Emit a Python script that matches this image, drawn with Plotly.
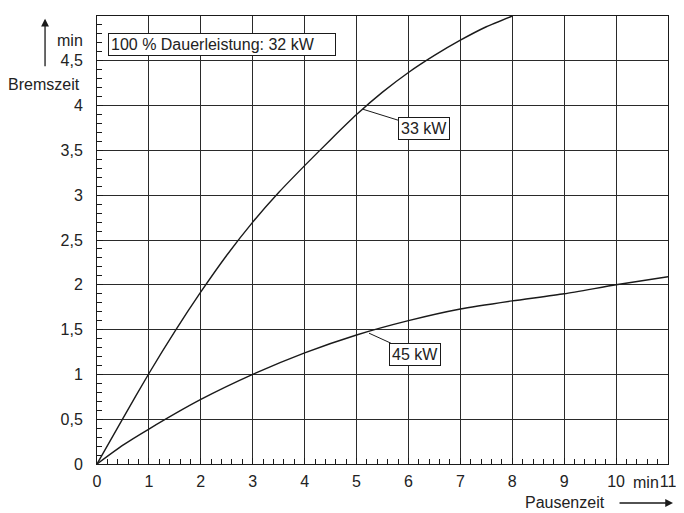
import plotly.graph_objects as go

pause_33 = [0, 0.5, 1, 1.5, 2, 2.5, 3, 3.5, 4, 4.5, 5, 5.5, 6, 6.5, 7, 7.5, 8]
brems_33 = [0, 0.51, 1.01, 1.48, 1.92, 2.33, 2.70, 3.03, 3.33, 3.62, 3.90, 4.15, 4.37, 4.56, 4.73, 4.88, 5.0]
pause_45 = [0, 0.5, 1, 2, 3, 4, 5, 6, 7, 8, 9, 10, 11]
brems_45 = [0, 0.21, 0.39, 0.72, 1.0, 1.24, 1.44, 1.6, 1.73, 1.82, 1.9, 2.0, 2.09]

x_ticks = list(range(0, 12))
x_ticktext = [str(v) for v in x_ticks]
y_ticks = [0, 0.5, 1, 1.5, 2, 2.5, 3, 3.5, 4, 4.5, 5]
y_ticktext = [("%g" % v).replace(".", ",") for v in y_ticks]

font = dict(family="Liberation Sans, Arial, sans-serif", size=16, color="#222")
ink = "#1a1a1a"

fig = go.Figure()
for xs, ys in [(pause_33, brems_33), (pause_45, brems_45)]:
    fig.add_trace(go.Scatter(x=xs, y=ys, mode="lines",
                             line=dict(color=ink, width=1.4, shape="spline", smoothing=0.6),
                             showlegend=False, hoverinfo="skip"))

axis_common = dict(showline=True, linecolor=ink, linewidth=1, mirror=True,
                   showgrid=True, gridcolor="#2a2a2a", gridwidth=1,
                   ticks="inside", ticklen=6, tickcolor=ink,
                   zeroline=False, tickfont=font)

fig.update_xaxes(range=[0, 11], tickvals=x_ticks, ticktext=x_ticktext,
                 ticklabelstandoff=3,
                 minor=dict(dtick=0.2, ticks="inside", ticklen=5, tickcolor=ink, showgrid=False),
                 **axis_common)
fig.update_yaxes(range=[0, 5], tickvals=y_ticks, ticktext=y_ticktext,
                 ticklabelstandoff=10,
                 minor=dict(dtick=0.1, ticks="inside", ticklen=5, tickcolor=ink, showgrid=False),
                 **axis_common)

ann = []
# unit labels
ann.append(dict(x=10.585, y=0, xref="x", yref="y", text="min", showarrow=False,
                yanchor="top", yshift=-8, font=font))
ann.append(dict(x=0, y=4.73, xref="x", yref="y", text="min", showarrow=False,
                xanchor="right", yanchor="middle", xshift=-12, font=font))
# axis titles
ann.append(dict(x=-0.0263, y=0.848, xref="paper", yref="paper", text="Bremszeit",
                showarrow=False, xanchor="right", yanchor="middle", font=font))
ann.append(dict(x=0.893, y=-0.087, xref="paper", yref="paper", text="Pausenzeit",
                showarrow=False, xanchor="right", yanchor="middle", font=font))
# axis arrows
ann.append(dict(x=-0.091, y=0.994, xref="paper", yref="paper", ax=0, ay=49,
                text="", showarrow=True, arrowhead=2, arrowsize=1.2, arrowwidth=1.3,
                arrowcolor=ink))
ann.append(dict(x=1.0088, y=-0.087, xref="paper", yref="paper", ax=-55, ay=0,
                text="", showarrow=True, arrowhead=2, arrowsize=1.2, arrowwidth=1.3,
                arrowcolor=ink))
# info box
ann.append(dict(x=0.218, y=4.683, xref="x", yref="y", text="100 % Dauerleistung: 32 kW",
                showarrow=False, xanchor="left", yanchor="middle", width=222, align="left",
                bordercolor=ink, borderwidth=1, borderpad=2, bgcolor="white", font=font))
# curve labels
ann.append(dict(x=5.12, y=3.96, xref="x", yref="y", text="33 kW", showarrow=True,
                arrowhead=0, arrowwidth=1, arrowcolor=ink, ax=61, ay=19,
                bordercolor=ink, borderwidth=1, borderpad=2, bgcolor="white", font=font))
ann.append(dict(x=5.24, y=1.46, xref="x", yref="y", text="45 kW", showarrow=True,
                arrowhead=0, arrowwidth=1, arrowcolor=ink, ax=46, ay=21,
                bordercolor=ink, borderwidth=1, borderpad=2, bgcolor="white", font=font))

fig.update_layout(width=676, height=505, margin=dict(l=89, r=16, t=8, b=49),
                  plot_bgcolor="white", paper_bgcolor="white", annotations=ann,
                  font=font)

fig.write_html("out.html")
